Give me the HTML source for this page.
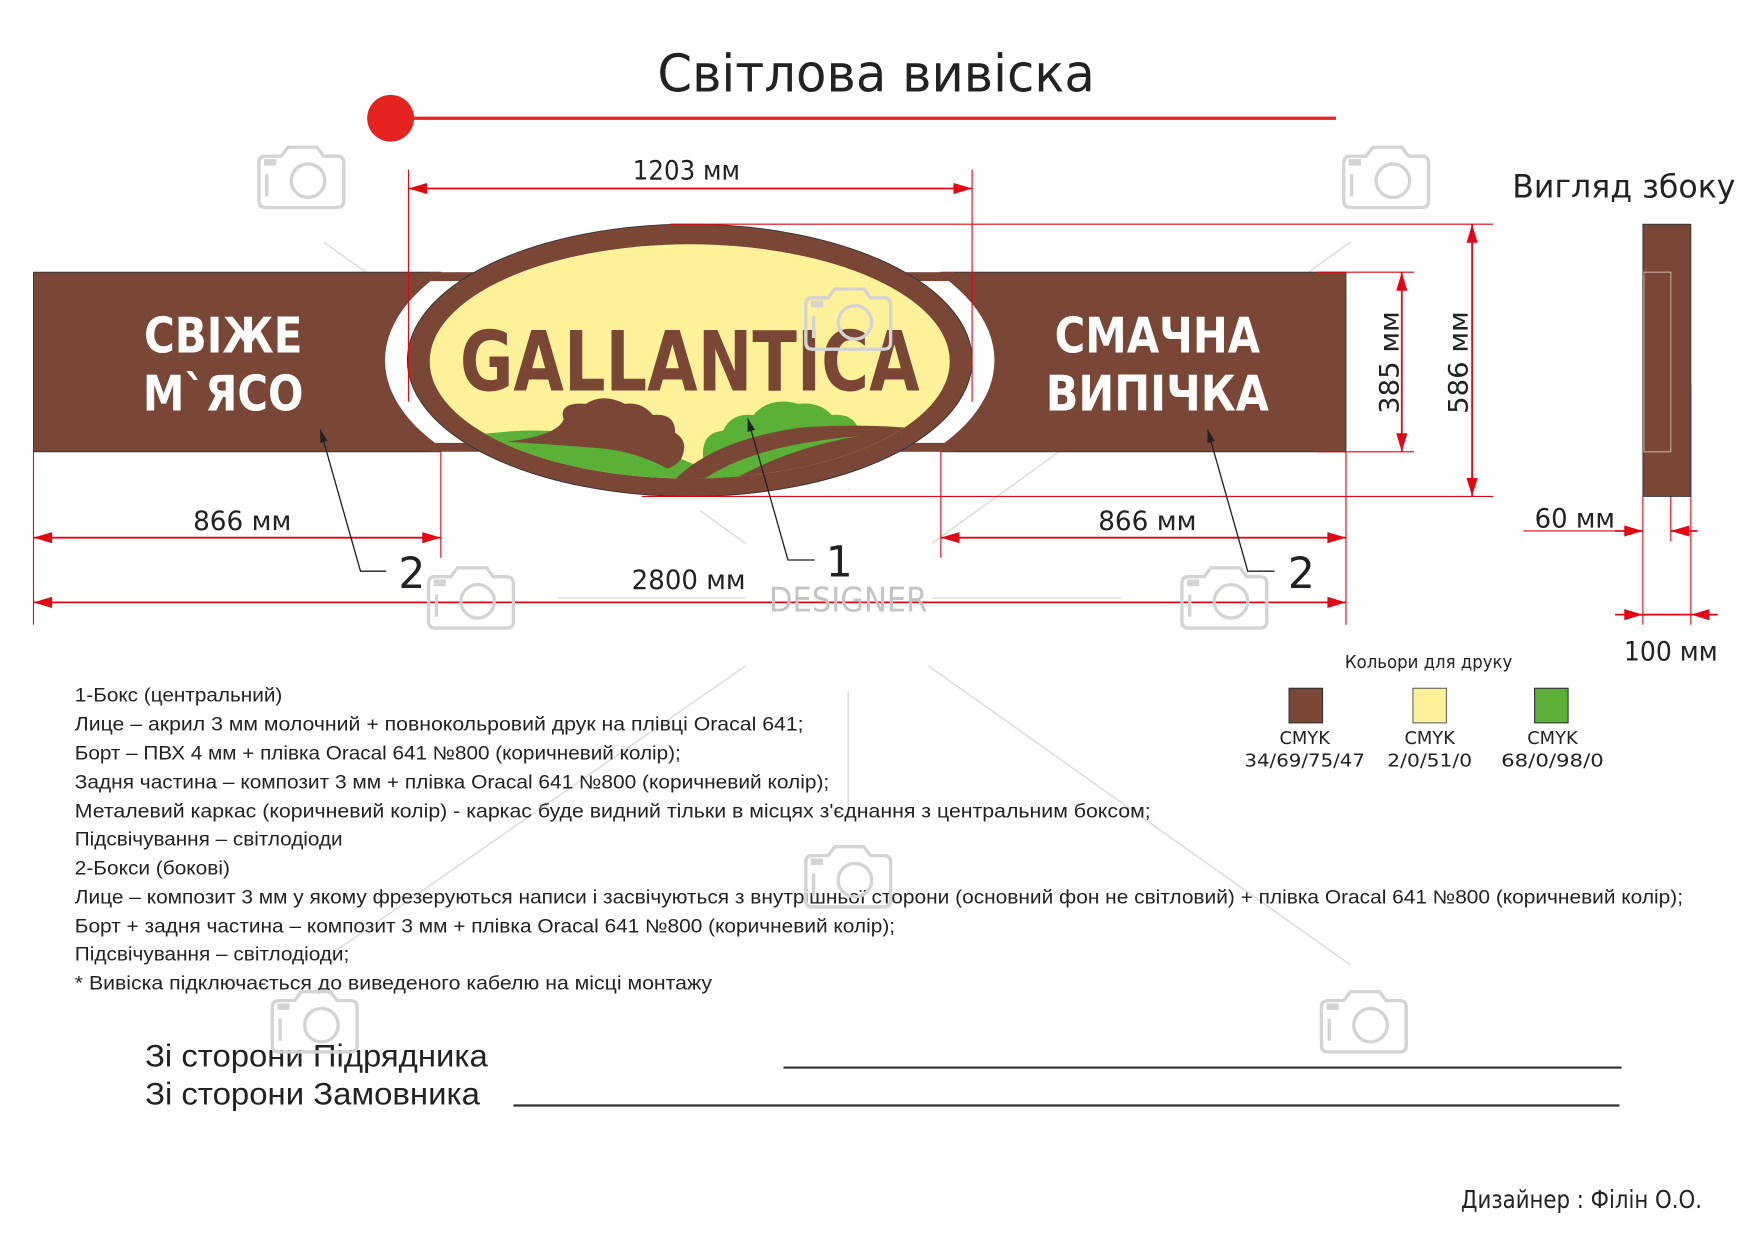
<!DOCTYPE html>
<html><head><meta charset="utf-8"><style>
html,body{margin:0;padding:0;background:#fff;}
svg{display:block;}
.d{font-family:"DejaVu Sans","Liberation Sans",sans-serif;fill:#222;}
.t{font-family:"Liberation Sans",sans-serif;fill:#222;}
</style></head><body>
<svg width="1750" height="1236" viewBox="0 0 1568 1108" preserveAspectRatio="none" xmlns="http://www.w3.org/2000/svg">
<defs>
<marker id="a" viewBox="0 0 10 6" refX="10" refY="3" markerWidth="28" markerHeight="10" markerUnits="userSpaceOnUse" orient="auto-start-reverse"><path d="M0,0 L10,3 L0,6 Z" fill="#e30613"/></marker>
<marker id="k" viewBox="0 0 10 6" refX="10" refY="3" markerWidth="12" markerHeight="7" markerUnits="userSpaceOnUse" orient="auto"><path d="M0,0 L10,3 L0,6 Z" fill="#222"/></marker>
<clipPath id="yc"><ellipse cx="618" cy="324" rx="233" ry="105"/></clipPath>
<g id="cam" fill="none" stroke="#d4d4d4" stroke-width="3">
<path d="M4,20 Q4,14 10,14 L24,14 L30,6 L56,6 L62,14 L74,14 Q80,14 80,20 L80,54 Q80,60 74,60 L10,60 Q4,60 4,54 Z"/>
<circle cx="48" cy="36" r="15"/><line x1="11" y1="30" x2="11" y2="50"/><rect x="10" y="18" width="8" height="3" fill="#d4d4d4"/>
</g>
</defs>
<g stroke="#dedede" stroke-width="1.5">
<line x1="290" y1="217" x2="668" y2="487"/><line x1="1210" y1="217" x2="835" y2="487"/>
<line x1="668" y1="597" x2="290" y2="860"/><line x1="832" y1="597" x2="1210" y2="865"/>
<line x1="760" y1="335" x2="760" y2="440"/><line x1="760" y1="620" x2="760" y2="735"/>
<line x1="500" y1="536" x2="668" y2="536"/><line x1="835" y1="536" x2="1005" y2="536"/>
</g>
<text x="785" y="82" text-anchor="middle" class="d" font-size="46" textLength="392" lengthAdjust="spacingAndGlyphs">Світлова вивіска</text>
<circle cx="350" cy="106" r="21" fill="#e52420"/>
<line x1="350" y1="106" x2="1197" y2="106" stroke="#e52420" stroke-width="3"/>
<rect x="30" y="244" width="365" height="161" fill="#7a4737" stroke="#333" stroke-width="0.8"/>
<rect x="843" y="244" width="363" height="161" fill="#7a4737" stroke="#333" stroke-width="0.8"/>
<ellipse cx="618" cy="323" rx="273" ry="135" fill="#fff"/>
<rect x="385" y="244" width="470" height="8" fill="#7a4737"/>
<rect x="385" y="397" width="470" height="8" fill="#7a4737"/>
<ellipse cx="618" cy="323" rx="253" ry="122" fill="#7a4737" stroke="#333" stroke-width="0.8"/>
<ellipse cx="618" cy="324" rx="233" ry="105" fill="#fdf29a"/>
<g clip-path="url(#yc)">
<path d="M380,400 Q420,388 470,386 Q560,384 640,425 L640,450 L380,450 Z" fill="#5bb137"/>
<path d="M540,402 Q488,398 455,396 Q500,390 505,376 Q500,360 525,362 Q540,352 560,362 Q575,360 585,372 Q605,370 605,388 Q618,396 610,412 Q605,418 598,420 Q570,405 540,402 Z" fill="#7a4737"/>
<path d="M630,410 Q628,388 648,386 Q655,370 675,372 Q690,355 715,362 Q735,360 745,372 Q768,370 770,390 L770,400 L640,420 Z" fill="#5bb137"/>
<path d="M596,440 Q630,395 720,383 Q800,378 860,390 L860,450 Z" fill="#7a4737"/>
<path d="M618,440 Q660,400 770,391 Q700,402 640,440 Z" fill="#5bb137"/>
</g>
<text x="618" y="350" text-anchor="middle" font-family="DejaVu Sans" font-weight="bold" font-size="74" fill="#7a4737" textLength="412" lengthAdjust="spacingAndGlyphs">GALLANTICA</text>
<g font-family="DejaVu Sans" font-weight="bold" font-size="44" fill="#fff" text-anchor="middle">
<text x="200" y="316" textLength="142" lengthAdjust="spacingAndGlyphs">СВІЖЕ</text>
<text x="200" y="368" textLength="144" lengthAdjust="spacingAndGlyphs">М`ЯСО</text>
<text x="1037" y="316" textLength="184" lengthAdjust="spacingAndGlyphs">СМАЧНА</text>
<text x="1037" y="368" textLength="200" lengthAdjust="spacingAndGlyphs">ВИПІЧКА</text>
</g>
<g stroke="#e30613" stroke-width="1" fill="none">
<line x1="366" y1="152" x2="366" y2="360"/><line x1="871" y1="152" x2="871" y2="360"/>
<line x1="600" y1="201" x2="1338" y2="201"/><line x1="575" y1="445" x2="1338" y2="445"/>
<line x1="1180" y1="244" x2="1267" y2="244"/><line x1="1180" y1="405" x2="1267" y2="405"/>
<line x1="30" y1="405" x2="30" y2="560"/><line x1="395" y1="405" x2="395" y2="500"/>
<line x1="843" y1="405" x2="843" y2="500"/><line x1="1206" y1="405" x2="1206" y2="560"/>
<line x1="1472" y1="445" x2="1472" y2="560"/><line x1="1497" y1="405" x2="1497" y2="485"/><line x1="1515" y1="345" x2="1515" y2="560"/>
<line x1="1365" y1="476" x2="1450" y2="476"/>
</g>
<g stroke="#e30613" stroke-width="1.6">
<line x1="366" y1="169" x2="871" y2="169" marker-start="url(#a)" marker-end="url(#a)"/>
<line x1="1319" y1="201" x2="1319" y2="445" marker-start="url(#a)" marker-end="url(#a)"/>
<line x1="1256" y1="244" x2="1256" y2="405" marker-start="url(#a)" marker-end="url(#a)"/>
<line x1="30" y1="482" x2="395" y2="482" marker-start="url(#a)" marker-end="url(#a)"/>
<line x1="843" y1="482" x2="1206" y2="482" marker-start="url(#a)" marker-end="url(#a)"/>
<line x1="30" y1="540" x2="1206" y2="540" marker-start="url(#a)" marker-end="url(#a)"/>
<line x1="1447" y1="476" x2="1472" y2="476" marker-end="url(#a)"/>
<line x1="1521" y1="476" x2="1497" y2="476" marker-end="url(#a)"/>
<line x1="1447" y1="551" x2="1472" y2="551" marker-end="url(#a)"/>
<line x1="1539" y1="551" x2="1515" y2="551" marker-end="url(#a)"/>
<line x1="1472" y1="551" x2="1515" y2="551"/>
</g>
<g class="d" font-size="24">
<text x="615" y="161" text-anchor="middle" textLength="96" lengthAdjust="spacingAndGlyphs">1203 мм</text>
<text x="217" y="475" text-anchor="middle" textLength="88" lengthAdjust="spacingAndGlyphs">866 мм</text>
<text x="1028" y="475" text-anchor="middle" textLength="88" lengthAdjust="spacingAndGlyphs">866 мм</text>
<text x="617" y="528" text-anchor="middle" textLength="102" lengthAdjust="spacingAndGlyphs">2800 мм</text>
<text transform="translate(1253,325) rotate(-90)" text-anchor="middle" textLength="92" lengthAdjust="spacingAndGlyphs">385 мм</text>
<text transform="translate(1315,325) rotate(-90)" text-anchor="middle" textLength="92" lengthAdjust="spacingAndGlyphs">586 мм</text>
<text x="1375" y="473" textLength="72" lengthAdjust="spacingAndGlyphs">60 мм</text>
<text x="1455" y="592" textLength="84" lengthAdjust="spacingAndGlyphs">100 мм</text>
<text x="1355" y="177" font-size="29" textLength="200" lengthAdjust="spacingAndGlyphs">Вигляд збоку</text>
</g>
<g stroke="#222" stroke-width="1.2" fill="none">
<polyline points="346,512 323,512 287,385" marker-end="url(#k)"/>
<polyline points="1142,512 1118,512 1082,385" marker-end="url(#k)"/>
<polyline points="730,502 706,502 670,375" marker-end="url(#k)"/>
</g>
<g class="d" font-size="38">
<text x="369" y="527" text-anchor="middle">2</text>
<text x="1166" y="527" text-anchor="middle">2</text>
<text x="752" y="517" text-anchor="middle">1</text>
</g>
<text x="760" y="548" text-anchor="middle" font-family="DejaVu Sans" font-size="30" fill="#c4c4c4" textLength="142" lengthAdjust="spacingAndGlyphs">DESIGNER</text>
<rect x="1472" y="201" width="43" height="244" fill="#7a4737" stroke="#333" stroke-width="0.8"/>
<rect x="1473" y="244" width="24" height="161" fill="none" stroke="#c9a99a" stroke-width="1"/>
<text x="1280" y="599" text-anchor="middle" class="d" font-size="16" textLength="150" lengthAdjust="spacingAndGlyphs">Кольори для друку</text>
<rect x="1155" y="617" width="30" height="31" fill="#7a4737" stroke="#333"/>
<rect x="1266" y="617" width="30" height="31" fill="#fdf29a" stroke="#666"/>
<rect x="1375" y="617" width="30" height="31" fill="#5bb137" stroke="#333"/>
<g class="d" font-size="16" text-anchor="middle">
<text x="1169" y="667">CMYK</text><text x="1169" y="687" textLength="108" lengthAdjust="spacingAndGlyphs">34/69/75/47</text>
<text x="1281" y="667">CMYK</text><text x="1281" y="687" textLength="76" lengthAdjust="spacingAndGlyphs">2/0/51/0</text>
<text x="1391" y="667">CMYK</text><text x="1391" y="687" textLength="92" lengthAdjust="spacingAndGlyphs">68/0/98/0</text>
</g>
<g class="t" font-size="17">
<text x="67" y="629" textLength="186" lengthAdjust="spacingAndGlyphs">1-Бокс (центральний)</text>
<text x="67" y="655" textLength="653" lengthAdjust="spacingAndGlyphs">Лице – акрил 3 мм молочний  + повнокольровий друк на плівці Oracal 641;</text>
<text x="67" y="681" textLength="543" lengthAdjust="spacingAndGlyphs">Борт – ПВХ 4 мм + плівка Oracal 641 №800 (коричневий колір);</text>
<text x="67" y="707" textLength="676" lengthAdjust="spacingAndGlyphs">Задня частина – композит 3 мм + плівка Oracal 641 №800 (коричневий колір);</text>
<text x="67" y="733" textLength="964" lengthAdjust="spacingAndGlyphs">Металевий каркас (коричневий колір)  - каркас буде видний тільки в місцях з'єднання  з центральним боксом;</text>
<text x="67" y="758" textLength="240" lengthAdjust="spacingAndGlyphs">Підсвічування – світлодіоди</text>
<text x="67" y="784" textLength="139" lengthAdjust="spacingAndGlyphs">2-Бокси (бокові)</text>
<text x="67" y="810" textLength="1441" lengthAdjust="spacingAndGlyphs">Лице – композит 3 мм у якому фрезеруються написи і засвічуються з внутрішньої сторони (основний фон не світловий) + плівка Oracal 641 №800 (коричневий колір);</text>
<text x="67" y="836" textLength="735" lengthAdjust="spacingAndGlyphs">Борт + задня частина – композит 3 мм + плівка Oracal 641 №800 (коричневий колір);</text>
<text x="67" y="861" textLength="246" lengthAdjust="spacingAndGlyphs">Підсвічування – світлодіоди;</text>
<text x="67" y="887" textLength="571" lengthAdjust="spacingAndGlyphs">* Вивіска підключається до виведеного  кабелю на місці монтажу</text>
</g>
<g class="t" font-size="28">
<text x="130" y="956" textLength="307" lengthAdjust="spacingAndGlyphs">Зі сторони Підрядника</text>
<text x="130" y="990" textLength="300" lengthAdjust="spacingAndGlyphs">Зі сторони Замовника</text>
</g>
<line x1="702" y1="957" x2="1453" y2="957" stroke="#333" stroke-width="2"/>
<line x1="460" y1="991" x2="1451" y2="991" stroke="#333" stroke-width="2"/>
<text x="1525" y="1083" text-anchor="end" class="d" font-size="22" textLength="216" lengthAdjust="spacingAndGlyphs">Дизайнер : Філін О.О.</text>
<use href="#cam" x="228" y="126"/><use href="#cam" x="1200" y="126"/><use href="#cam" x="718" y="253"/>
<use href="#cam" x="380" y="503"/><use href="#cam" x="1055" y="503"/><use href="#cam" x="718" y="753"/>
<use href="#cam" x="240" y="883"/><use href="#cam" x="1180" y="883"/>
</svg>
</body></html>
